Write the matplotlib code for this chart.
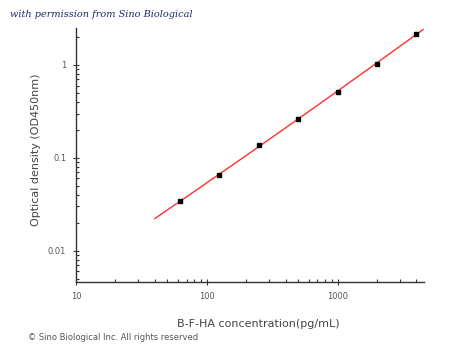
import matplotlib
matplotlib.use('Agg')
import matplotlib.pyplot as plt
import numpy as np

# standard curve points
conc = [62.5, 125, 250, 500, 1000, 2000, 4000]
od = [0.034, 0.066, 0.137, 0.263, 0.516, 1.03, 2.17]
xticks = [10, 100, 1000]
yticks = [0.01, 0.1, 1]

plt.rcParams['font.family'] = ['DejaVu Sans']

fig = plt.figure(figsize=(4.5, 3.54), dpi=100)
ax = fig.add_axes([0.169, 0.203, 0.773, 0.718])

# fitted line in log-log space
lx = np.log10(conc)
ly = np.log10(od)
p = np.polyfit(lx, ly, 2)
xf = np.logspace(np.log10(40), np.log10(4500), 200)
yf = 10 ** np.polyval(p, np.log10(xf))
ax.plot(xf, yf, color='#ff3030', lw=1.0, zorder=2)
ax.plot(conc, od, 's', color='black', ms=2.8, zorder=3)

ax.set_xscale('log')
ax.set_yscale('log')
ax.set_xlim(10, 4570)
ax.set_ylim(0.0046, 2.5)
ax.set_xticks(xticks)
ax.set_xticklabels(['10', '100', '1000'])
ax.set_yticks(yticks)
ax.set_yticklabels(['0.01', '0.1', '1'])

for s in ['top', 'right']:
    ax.spines[s].set_visible(False)
for s in ['left', 'bottom']:
    ax.spines[s].set_color('#333333')
    ax.spines[s].set_linewidth(1.0)

ax.tick_params(which='major', direction='inout', length=4, width=0.8,
               colors='#333333', labelsize=6, labelcolor='#555555', pad=5)
ax.tick_params(which='minor', direction='in', length=2.5, width=0.8, colors='#333333')

ax.set_xlabel('B-F-HA concentration(pg/mL)', fontsize=8, color='#444444')
ax.set_ylabel('Optical density (OD450nm)', fontsize=8, color='#444444')
ax.xaxis.set_label_coords(0.524, -0.146)
ax.yaxis.set_label_coords(-0.10, 0.52)

fig.text(0.022, 0.958, 'with permission from Sino Biological', fontsize=7,
         style='italic', family='DejaVu Serif', color='#1c2a66', va='center')
fig.text(0.062, 0.048, '© Sino Biological Inc. All rights reserved', fontsize=6,
         color='#555555', va='center')

fig.savefig('out.png', dpi=100)
